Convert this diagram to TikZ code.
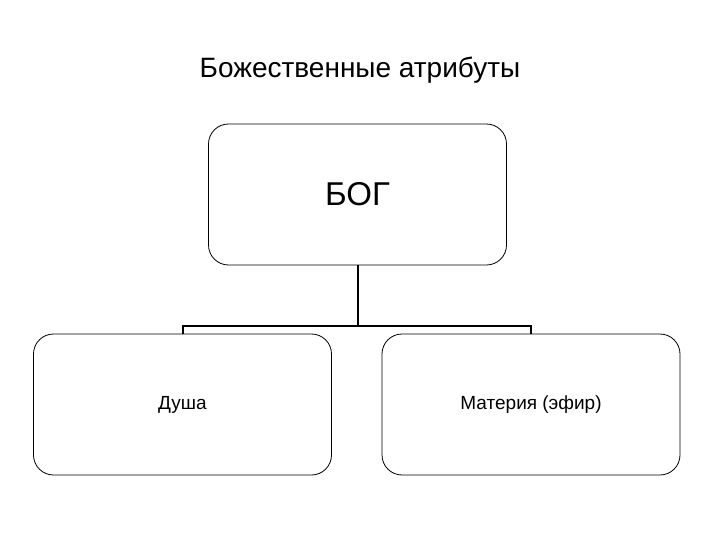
\documentclass[tikz,border=0pt]{standalone}
\usepackage{fontspec}
\setmainfont{Liberation Sans}
\begin{document}
\begin{tikzpicture}[x=1pt,y=-1pt,
  box/.style={draw=black,line width=0.8pt,rounded corners=20pt,minimum width=298pt,minimum height=141pt,inner sep=0pt},
  conn/.style={draw=black,line width=2pt}]
\useasboundingbox (0,0) rectangle (720,540);
\node[font=\fontsize{28}{30}\selectfont] (title) at (360,70) {Божественные атрибуты};
\node[box,font=\fontsize{33}{36}\selectfont] (god) at (357.5,194.5) {БОГ};
\node[box,font=\fontsize{19}{22}\selectfont] (soul) at (182.5,404.5) {Душа};
\node[box,font=\fontsize{19}{22}\selectfont] (matter) at (531,404.5) {Материя (эфир)};
\coordinate (j) at (357.5,326);
\draw[conn] (god.south) -- (j);
\draw[conn] (soul.north) -- (soul.north |- j) -- (matter.north |- j) -- (matter.north);
\end{tikzpicture}
\end{document}
